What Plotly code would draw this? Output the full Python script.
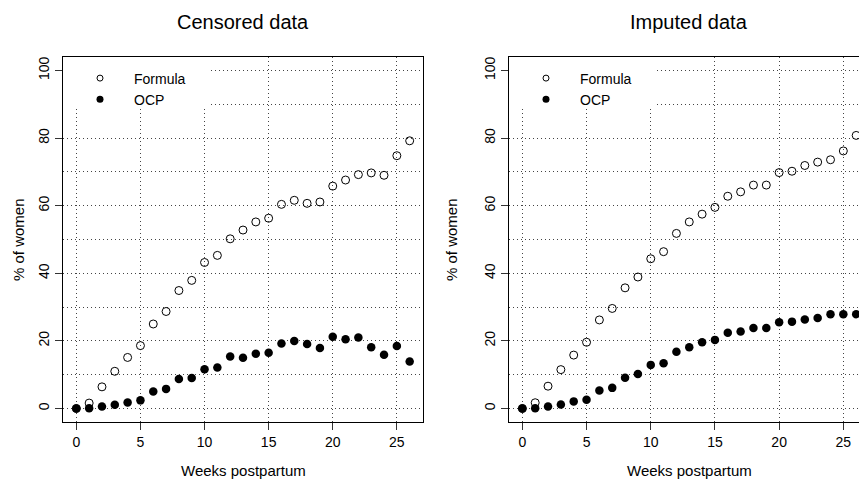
import plotly.graph_objects as go

W, H = 859, 482

weeks = list(range(27))
cens_formula = [0, 1.6, 6.4, 11.0, 15.1, 18.6, 25.0, 28.7, 34.9, 37.9, 43.2, 45.3, 50.2, 52.8, 55.2,
                56.3, 60.4, 61.6, 60.7, 61.1, 65.8, 67.6, 69.2, 69.7, 69.0, 74.8, 79.2]
cens_ocp = [0, 0.1, 0.6, 1.1, 1.8, 2.4, 5.0, 5.8, 8.7, 9.0, 11.6, 12.1, 15.4, 15.0, 16.2,
            16.5, 19.2, 20.0, 19.1, 17.9, 21.2, 20.5, 21.0, 18.1, 15.9, 18.5, 13.9]
imp_formula = [0, 1.7, 6.6, 11.5, 15.8, 19.6, 26.2, 29.6, 35.7, 38.9, 44.3, 46.4, 51.8, 55.2, 57.5,
               59.5, 62.8, 64.1, 66.1, 66.1, 69.8, 70.2, 71.9, 72.9, 73.6, 76.2, 80.8]
imp_ocp = [0, 0.1, 0.6, 1.2, 2.1, 2.6, 5.3, 6.1, 9.1, 10.2, 12.9, 13.4, 16.8, 18.1, 19.6,
           20.3, 22.4, 22.8, 23.8, 23.8, 25.5, 25.7, 26.3, 26.8, 27.9, 27.9, 27.9]

titles = ["Censored data", "Imputed data"]
series_names = ["Formula", "OCP"]
x_ticks = [0, 5, 10, 15, 20, 25]
y_ticks = [0, 20, 40, 60, 80, 100]

FONT = "Liberation Sans, Arial, Helvetica, sans-serif"


def px(x):
    return x / W


def py(y):
    return 1 - y / H


fig = go.Figure()

panels = [(cens_formula, cens_ocp, "x", "y", "legend"),
          (imp_formula, imp_ocp, "x2", "y2", "legend2")]

for formula, ocp, xa, ya, lg in panels:
    fig.add_trace(go.Scatter(x=weeks, y=formula, mode="markers", xaxis=xa, yaxis=ya,
                             showlegend=False,
                             marker=dict(symbol="circle-open", size=8, color="black",
                                         line=dict(width=1, color="black"))))
    fig.add_trace(go.Scatter(x=weeks, y=ocp, mode="markers", xaxis=xa, yaxis=ya,
                             showlegend=False,
                             marker=dict(symbol="circle", size=8.5, color="black",
                                         line=dict(width=0))))
    # legend-only entries
    fig.add_trace(go.Scatter(x=[None], y=[None], mode="markers", xaxis=xa, yaxis=ya,
                             name=series_names[0], legend=lg,
                             marker=dict(symbol="circle-open", size=6, color="black",
                                         line=dict(width=1, color="black"))))
    fig.add_trace(go.Scatter(x=[None], y=[None], mode="markers", xaxis=xa, yaxis=ya,
                             name=series_names[1], legend=lg,
                             marker=dict(symbol="circle", size=7, color="black",
                                         line=dict(width=0))))

grid_common = dict(gridcolor="#444", gridwidth=1, griddash="1px,3px")
tick_font = dict(family=FONT, size=14, color="black")

xdom1 = [px(63), px(423)]
xdom2 = [px(509), 1.0]
ydom = [py(422), py(57)]

xaxis_common = dict(tickmode="array", tickvals=x_ticks, ticks="outside", ticklen=7,
                    tickcolor="#333", tickwidth=1, showline=True, linecolor="black",
                    linewidth=1, mirror=True, zeroline=False, showgrid=True,
                    tickfont=tick_font, **grid_common)
yaxis_common = dict(tickmode="array", tickvals=y_ticks, ticks="outside", ticklen=7,
                    tickcolor="#333", tickwidth=1, showline=True, linecolor="black",
                    linewidth=1, zeroline=False, showgrid=True, tickangle=-90,
                    range=[-4, 104], tickfont=tick_font,
                    minor=dict(dtick=10, tick0=0, showgrid=True, ticks="",
                               gridcolor="#444", gridwidth=1, griddash="1px,3px"),
                    **grid_common)

fig.update_layout(
    width=W, height=H,
    margin=dict(l=0, r=0, t=0, b=0),
    paper_bgcolor="white", plot_bgcolor="white",
    font=dict(family=FONT, size=14, color="black"),
    xaxis=dict(domain=xdom1, range=[-1.04, 27.04], anchor="y", **xaxis_common),
    yaxis=dict(domain=ydom, anchor="x", mirror=True, **yaxis_common),
    xaxis2=dict(domain=xdom2, range=[-1.04, 26.22], anchor="y2", **xaxis_common),
    yaxis2=dict(domain=ydom, anchor="x2", mirror=False, **yaxis_common),
    legend=dict(x=px(66), y=py(62.5), xanchor="left", yanchor="top",
                bgcolor="rgba(0,0,0,0)", borderwidth=0, itemwidth=58,
                font=dict(family=FONT, size=14, color="black"), tracegroupgap=0),
    legend2=dict(x=px(512), y=py(62.5), xanchor="left", yanchor="top",
                 bgcolor="rgba(0,0,0,0)", borderwidth=0, itemwidth=58,
                 font=dict(family=FONT, size=14, color="black"), tracegroupgap=0),
    showlegend=True,
)

# white background behind the legends (covers the grid like R's legend bg)
for xr, yr in (("x", "y"), ("x2", "y2")):
    fig.add_shape(type="rect", xref=xr, yref=yr, x0=-1.04, x1=10.4, y0=88.8, y1=104,
                  fillcolor="white", line=dict(width=0), layer="between")

annotations = []
for title, cx in zip(titles, (243, 689)):
    annotations.append(dict(text=title, x=px(cx), y=py(22), xref="paper", yref="paper",
                            xanchor="center", yanchor="middle", showarrow=False,
                            font=dict(family=FONT, size=20, color="black")))
    annotations.append(dict(text="Weeks postpartum", x=px(cx), y=py(470), xref="paper",
                            yref="paper", xanchor="center", yanchor="middle",
                            showarrow=False, font=dict(family=FONT, size=15, color="black")))
for cx in (18, 451):
    annotations.append(dict(text="% of women", x=px(cx), y=py(240), xref="paper", yref="paper",
                            xanchor="center", yanchor="middle", textangle=-90,
                            showarrow=False, font=dict(family=FONT, size=15, color="black")))
fig.update_layout(annotations=annotations)

fig.write_html("out.html")
